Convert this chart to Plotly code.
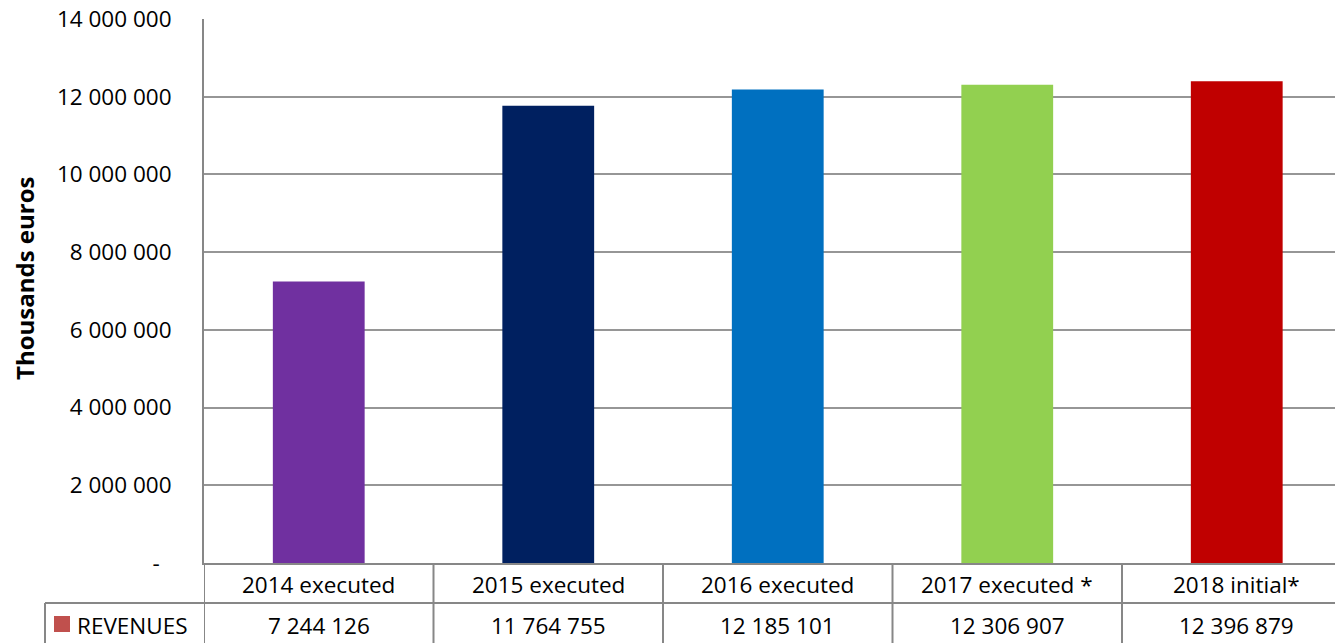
import plotly.graph_objects as go

categories = ["2014 executed", "2015 executed", "2016 executed", "2017 executed *", "2018 initial*"]
revenues = [7244126, 11764755, 12185101, 12306907, 12396879]
bar_colors = ["#7030A0", "#002060", "#0070C0", "#92D050", "#C00000"]
series_name = "REVENUES"
legend_color = "#C0504D"
y_tickvals = [0, 2000000, 4000000, 6000000, 8000000, 10000000, 12000000, 14000000]


def fmt(v):
    return f"{v:,}".replace(",", " ")


y_ticktext = ["-\u00a0\u00a0" if v == 0 else fmt(v) for v in y_tickvals]

W, H = 1335, 643
L, R, T, B = 204, 0, 19, 80
PW, PH = W - L - R, H - T - B
CAT_W = 229.5  # pixel width of one category column


def px_x(px):
    return (px - L) / PW


def px_y(py):
    return (H - B - py) / PH


FONT = "Open Sans, Carlito, Calibri, sans-serif"
FS = 22.5
LINE = "#878787"
GRID = "#969696"

fig = go.Figure()
fig.add_trace(go.Bar(
    x=list(range(len(categories))),
    y=revenues,
    marker=dict(color=bar_colors, line=dict(width=0)),
    width=0.4,
    name=series_name,
    showlegend=False,
    hoverinfo="x+y",
))

shapes = []
for i in range(len(categories)):
    shapes.append(dict(type="line", xref="x", yref="paper",
                       x0=i - 0.5, x1=i - 0.5, y0=0, y1=px_y(H),
                       line=dict(color=LINE, width=2)))
shapes.append(dict(type="line", xref="paper", yref="paper",
                   x0=px_x(45), x1=1, y0=px_y(603), y1=px_y(603),
                   line=dict(color=LINE, width=2)))
shapes.append(dict(type="line", xref="paper", yref="paper",
                   x0=px_x(45), x1=px_x(45), y0=px_y(603), y1=px_y(H),
                   line=dict(color=LINE, width=2)))
shapes.append(dict(type="rect", xref="paper", yref="paper",
                   x0=px_x(54), x1=px_x(70), y0=px_y(616), y1=px_y(632),
                   fillcolor=legend_color, line=dict(width=0)))

annotations = []
for i, (c, v) in enumerate(zip(categories, revenues)):
    annotations.append(dict(x=i, y=px_y(584), xref="x", yref="paper",
                            text=c, showarrow=False, xanchor="center", yanchor="middle",
                            font=dict(family=FONT, size=FS, color="#000000")))
    annotations.append(dict(x=i, y=px_y(625), xref="x", yref="paper",
                            text=fmt(v), showarrow=False, xanchor="center", yanchor="middle",
                            font=dict(family=FONT, size=FS, color="#000000")))
annotations.append(dict(x=px_x(75), y=px_y(625), xref="paper", yref="paper",
                        text=series_name, showarrow=False, xanchor="left", yanchor="middle",
                        font=dict(family=FONT, size=FS, color="#000000")))
annotations.append(dict(x=px_x(24), y=px_y(278), xref="paper", yref="paper",
                        text="<b>Thousands euros</b>", textangle=-90, showarrow=False,
                        xanchor="center", yanchor="middle",
                        font=dict(family=FONT, size=24, color="#000000")))

fig.update_layout(
    width=W, height=H,
    margin=dict(l=L, r=R, t=T, b=B, pad=0),
    paper_bgcolor="white", plot_bgcolor="white",
    font=dict(family=FONT, size=FS, color="#000000"),
    shapes=shapes, annotations=annotations,
    showlegend=False,
    xaxis=dict(range=[-0.5, -0.5 + PW / CAT_W], showticklabels=False, ticks="",
               showgrid=False, zeroline=False, showline=True, linecolor=LINE, linewidth=2,
               fixedrange=True),
    yaxis=dict(range=[0, 14000000], tickvals=y_tickvals, ticktext=y_ticktext,
               showgrid=True, gridcolor=GRID, gridwidth=1.5, zeroline=False,
               showline=True, linecolor=LINE, linewidth=2,
               ticks="outside", ticklen=26, tickcolor="rgba(0,0,0,0)",
               tickfont=dict(family=FONT, size=FS, color="#000000"),
               fixedrange=True),
)

fig.write_html("out.html", config={"displayModeBar": False})
